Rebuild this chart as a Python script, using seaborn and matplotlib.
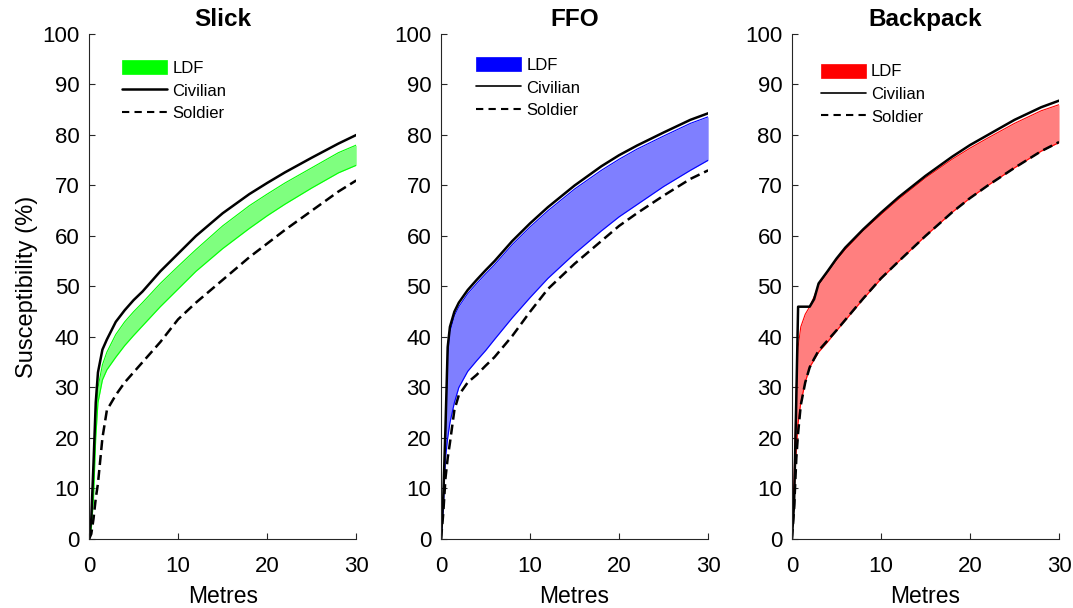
import numpy as np
import pandas as pd
import matplotlib
matplotlib.use("Agg")
import matplotlib.pyplot as plt
import seaborn as sns
from matplotlib.patches import Patch
from matplotlib.lines import Line2D

sns.set_theme(style="ticks")
plt.rcParams['font.family'] = ['Liberation Sans', 'DejaVu Sans']
plt.rcParams['text.color'] = 'black'
plt.rcParams['axes.labelcolor'] = 'black'

# ---------------- data ----------------
titles = ["Slick", "FFO", "Backpack"]
colors = ["#00ff00", "#0000ff", "#ff0000"]

slick_x = [0, 0.25, 0.5, 0.75, 1, 1.5, 2, 3, 4, 5, 6, 8, 10, 12, 15, 18, 20, 22, 25, 28, 30]
slick_civ = [0, 4, 15, 27, 33, 37.5, 39.5, 43, 45.3, 47.3, 49, 53, 56.5, 60, 64.5, 68.3, 70.5, 72.6, 75.5, 78.3, 80]
slick_up = [0, 3, 12, 24, 30, 34.5, 37, 40.5, 43, 45, 46.8, 50.6, 54, 57.3, 62, 66, 68.3, 70.5, 73.5, 76.5, 78]
slick_lo = [0, 2, 8, 20, 27, 31.5, 33.5, 36, 38.3, 40.3, 42.2, 46, 49.5, 53, 57.5, 61.5, 64, 66.3, 69.5, 72.5, 74]
slick_sol = [0, 1, 4, 8, 11, 20, 25.5, 28.5, 31, 33, 35, 39, 43.5, 46.8, 51.3, 55.8, 58.5, 61.2, 65, 68.8, 71]

ffo_x = [0, 0.25, 0.5, 0.75, 1, 1.5, 2, 3, 4, 5, 6, 8, 10, 12, 15, 18, 20, 22, 25, 28, 30]
ffo_civ = [0, 8, 22, 38, 42, 45, 46.8, 49.3, 51.3, 53.2, 55, 59, 62.5, 65.7, 70, 73.8, 76, 77.9, 80.5, 83, 84.3]
ffo_up = [0, 6, 20, 36, 41, 44.2, 46, 48.6, 50.6, 52.5, 54.3, 58.3, 61.8, 65, 69.3, 73, 75.2, 77.2, 79.8, 82.3, 83.6]
ffo_lo = [0, 6, 16, 20, 23, 27, 30, 33.2, 35.3, 37.3, 39.5, 43.8, 47.8, 51.6, 56.5, 61, 63.8, 66.2, 69.8, 73, 75]
ffo_sol = [0, 5, 12, 16, 19, 25.5, 28.5, 31, 32.5, 34.3, 36, 40.2, 45, 49.5, 54.5, 59, 62, 64.5, 68, 71.3, 73]

bp_x = [0, 0.25, 0.5, 0.7, 1, 1.5, 2, 2.5, 3, 4, 5, 6, 8, 10, 12, 15, 18, 20, 22, 25, 28, 30]
bp_civ = [0, 7, 28, 46, 46, 46, 46, 47.5, 50.6, 53, 55.5, 57.7, 61.3, 64.6, 67.7, 71.9, 75.7, 78, 80, 83, 85.5, 86.8]
bp_up = [0, 12, 30, 38, 42, 44.5, 46, 48, 50.3, 52.8, 55.2, 57.3, 61, 64.2, 67.3, 71.5, 75.2, 77.4, 79.4, 82.3, 84.8, 86]
bp_lo = [0, 9, 18, 23, 27, 31, 34, 35.5, 37, 39, 41.2, 43.3, 47.5, 51.5, 55, 60, 64.7, 67.5, 70, 73.5, 76.8, 78.5]
bp_sol = [0, 6, 16, 21, 26.5, 31, 34, 35.7, 37.3, 39.3, 41.3, 43.4, 47.6, 51.6, 55, 60, 64.7, 67.5, 70, 73.5, 76.8, 78.6]

panels = [
    (slick_x, slick_civ, slick_up, slick_lo, slick_sol),
    (ffo_x, ffo_civ, ffo_up, ffo_lo, ffo_sol),
    (bp_x, bp_civ, bp_up, bp_lo, bp_sol),
]

# ---------------- figure ----------------
fig = plt.figure(figsize=(10.73, 6.08), dpi=100)
lefts = [0.083, 0.411, 0.738]
legpos = [(0.124, 0.948), (0.132, 0.954), (0.109, 0.941)]

for i, (x, civ, up, lo, sol) in enumerate(panels):
    ax = fig.add_axes([lefts[i], 0.1135, 0.249, 0.8306])
    c = colors[i]
    ax.fill_between(x, lo, up, color=c, alpha=0.5, linewidth=0)
    sns.lineplot(x=x, y=up, ax=ax, color=c, lw=0.8, estimator=None, sort=False)
    sns.lineplot(x=x, y=lo, ax=ax, color=c, lw=0.8, estimator=None, sort=False)
    sns.lineplot(x=x, y=civ, ax=ax, color="black", lw=1.8, estimator=None, sort=False)
    sns.lineplot(x=x, y=sol, ax=ax, color="black", lw=1.8, linestyle=(0, (4, 2)),
                 estimator=None, sort=False)

    ax.set_xlim(0, 30)
    ax.set_ylim(0, 100)
    ax.set_xticks([0, 10, 20, 30])
    ax.set_yticks(np.arange(0, 101, 10))
    ax.tick_params(direction="in", length=4, width=0.8, labelsize=16, colors="#262626",
                   labelcolor="black")
    ax.tick_params(axis="x", pad=12)
    ax.tick_params(axis="y", pad=7)
    for s in ["top", "right"]:
        ax.spines[s].set_visible(False)
    for s in ["left", "bottom"]:
        ax.spines[s].set_color("#262626")
        ax.spines[s].set_linewidth(0.8)
    ax.set_title(titles[i], fontsize=17.5, fontweight="bold", pad=6, color="black")
    ax.set_xlabel("Metres", fontsize=16.5, labelpad=6)
    if i == 0:
        ax.set_ylabel("Susceptibility (%)", fontsize=17, labelpad=3)
    else:
        ax.set_ylabel("")

    handles = [
        Patch(facecolor=c, edgecolor=c, linewidth=0.5),
        Line2D([0], [0], color="black", lw=1.8 if i == 0 else 1.2),
        Line2D([0], [0], color="black", lw=1.5, linestyle=(0, (3.5, 2.5))),
    ]
    ax.legend(handles, ["LDF", "Civilian", "Soldier"], loc="upper left",
              bbox_to_anchor=legpos[i], frameon=False, fontsize=12,
              handlelength=2.7, handleheight=0.9, handletextpad=0.3,
              labelspacing=0.42, borderaxespad=0, borderpad=0)

fig.savefig("out.png", dpi=100)
